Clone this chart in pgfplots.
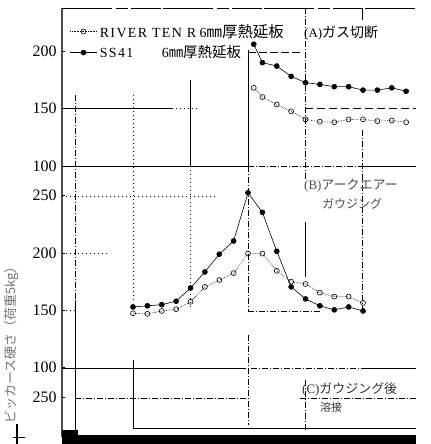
\documentclass[border=0pt]{standalone}
\usepackage{fontspec}
\setmainfont{Liberation Serif}
\newfontfamily\jp{Noto Sans CJK JP}
\usepackage{pgfplots}
\usepackage{pgfplotstable}
\pgfplotsset{compat=1.18}

% hardness traverse, x = distance from centre (mm)
\pgfplotstableread{
x     ss41   rtr
1     206    168
2.5   190    160
5     187    153.5
7.5   178    147.5
10    172.5  140.5
12.5  171    138.5
15    169    138
17.5  169    140.5
20    166    140.5
22.5  166    139
25    168    139.5
27.5  165    138
}\panelA

\pgfplotstableread{
x      ss41   rtr
-20    153    147.5
-17.5  154    147
-15    155    149.5
-12.5  158    151
-10    169.5  157.5
-7.5   183.5  170.5
-5     199    176.5
-2.5   210.5  182.5
0      252.5  199.5
2.5    235.5  199.5
5      201.5  184.5
7.5    170.5  175
10     160    173
12.5   154    165.5
15     150.5  162
17.5   153    162
20     149.5  156.5
}\panelB

\pgfplotsset{
  panel/.style={
    scale only axis, width=368bp, height=428bp,
    at={(62bp,8bp)}, anchor=south west,
    xmin=-32.35, xmax=31.65,
    axis line style={draw=none},
    xtick=\empty, ytick pos=left, tick align=inside,
    major tick length=3bp,
    tick style={black, line width=0.6pt},
    yticklabel style={font=\fontsize{16}{16}\selectfont, xshift=-2bp},
    /pgf/number format/assume math mode=true,
  },
  ssline/.style={black, line width=0.6pt, mark=*, mark size=2.5,
    mark options={solid, fill=black}},
  rtline/.style={black, line width=0.6pt, densely dotted, mark=o, mark size=2.5,
    mark options={solid, fill=white}},
}

\begin{document}
\begin{tikzpicture}
\begin{scope}[x=1bp, y=-1bp, yshift=444bp,
    gl/.style={black, line width=0.6pt},
    dd/.style={gl, dash pattern=on 6bp off 2bp on 1bp off 2bp},
    dt/.style={gl, dash pattern=on 1bp off 3bp}]
  \useasboundingbox (0,0) rectangle (416,444);
  % frame
  \draw[black!70, line width=1.1pt] (62,8) -- (62,437);
  \draw[gl, line width=0.8pt, dash pattern=on 50bp off 4bp on 12bp off 3bp on 30bp off 2bp] (62,8) -- (416,8);
  % verticals
  \draw[dd] (75,95) -- (75,300);
  \draw[gl] (75,300) -- (75,430);
  \draw[dt] (133,95) -- (133,300);
  \draw[gl] (133,360) -- (133,428);
  \draw[gl] (190,80) -- (190,166);
  \draw[dt] (190,166) -- (190,310);
  \draw[gl] (248,50) -- (248,166);
  \draw[dd] (248,166) -- (248,312);
  \draw[dd] (248,335) -- (248,425);
  \draw[dd] (305,8) -- (305,180);
  \draw[gl] (305,222) -- (305,277);
  \draw[dd] (305,380) -- (305,430);
  \draw[gl] (362,8) -- (362,20);
  \draw[dd] (362,130) -- (362,310);
  % horizontals
  \draw[gl, dash pattern=on 8bp off 3bp] (248,52) -- (300,52);
  \draw[gl] (62,108) -- (172,108);
  \draw[dt] (172,108) -- (200,108);
  \draw[gl, dash pattern=on 8bp off 4bp] (305,108) -- (416,108);
  \draw[gl, line width=0.8pt] (62,166) -- (248,166);
  \draw[dd] (248,166) -- (362,166);
  \draw[gl, line width=0.8pt] (362,166) -- (416,166);
  \draw[dt] (62,196) -- (215,196);
  \draw[dt] (62,253) -- (110,253);
  \draw[dt] (62,310) -- (75,310);
  \draw[dd] (248,311) -- (320,311);
  \draw[gl, line width=0.8pt] (62,368) -- (240,368);
  \draw[dd] (240,368) -- (362,368);
  \draw[gl, line width=0.8pt] (362,368) -- (416,368);
  \draw[dd] (75,398) -- (250,398);
  \draw[dd] (300,398) -- (416,398);
  \draw[gl, line width=0.8pt] (133,428) -- (416,428);
  % scan edge at the bottom
  \fill[black] (62,435) rectangle (416,444);
  \fill[black] (62,430) rectangle (78,437);
  \draw[black, line width=1.6pt] (17,424) -- (17,444);
  \draw[black, line width=0.8pt] (13,437) -- (25,437);
  % panel captions
  \node[anchor=west, inner sep=0, font=\fontsize{13}{13}\selectfont] at (304,33) {(A)\jp\fontsize{14}{14}\selectfont ガス切断};
  \node[anchor=west, inner sep=0, text=black!70, font=\fontsize{13}{13}\selectfont] at (304,186) {(B)\jp アークエアー};
  \node[anchor=west, inner sep=0, text=black!70, font=\fontsize{12}{12}\selectfont] at (322,204) {\jp ガウジング};
  \node[anchor=west, inner sep=0, text=black!80, font=\fontsize{13}{13}\selectfont] at (302,389) {(C)\jp ガウジング後};
  \node[anchor=west, inner sep=0, text=black!80, font=\fontsize{11}{11}\selectfont] at (320,407) {\jp 溶接};
  % y label
  \node[rotate=90, inner sep=0, text=black!55, font=\jp\fontsize{13}{13}\selectfont] at (12,342) {ビッカース硬さ（荷重5kg）};
\end{scope}

% (A) gas cut
\begin{axis}[panel, ymin=-135.5, ymax=237.6, ytick={100,150,200},
  legend style={at={(0.0217,0.967)}, anchor=north west, draw=none, fill=none,
    font=\fontsize{14}{16}\selectfont, row sep=3bp, inner sep=0pt,
    cells={anchor=west}},
  legend cell align=left,
  legend image code/.code={\draw[mark repeat=2, mark phase=2, #1]
    plot coordinates {(0bp,0bp) (13bp,0bp) (27bp,0bp)};}]
  \addplot[rtline] table[x=x, y=rtr] {\panelA};
  \addlegendentry{{\addfontfeature{LetterSpace=10}RIVER TEN R} 6{\jp\fontsize{15.5}{16}\selectfont ㎜厚熱延板}}
  \addplot[ssline] table[x=x, y=ss41] {\panelA};
  \addlegendentry{\makebox[62bp][l]{\addfontfeature{LetterSpace=10}SS41}6{\jp\fontsize{14.5}{16}\selectfont ㎜厚熱延板}}
\end{axis}

% (B) arc-air gouging
\begin{axis}[panel, ymin=40.5, ymax=413.6, ytick={100,150,200,250}]
  \addplot[rtline] table[x=x, y=rtr] {\panelB};
  \addplot[ssline] table[x=x, y=ss41] {\panelB};
\end{axis}

% (C) welded after gouging
\begin{axis}[panel, ymin=216.5, ymax=589.6, ytick={250}]
\end{axis}
\end{tikzpicture}
\end{document}
